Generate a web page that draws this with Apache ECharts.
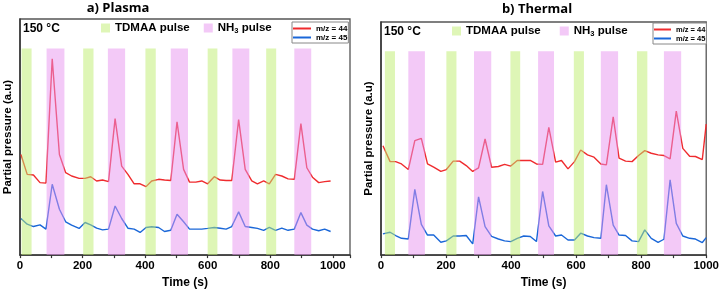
<!DOCTYPE html>
<html><head><meta charset="utf-8">
<script src="https://cdn.jsdelivr.net/npm/echarts@6/dist/echarts.min.js"></script>
<style>html,body{margin:0;padding:0;background:#fff}#c{width:722px;height:294px}</style>
</head><body><div id="c"></div>
<script>
// ---- data ----
const plasmaTime = [3,23,43,64,83,103,126,146,165,189,208,226,245,264,283,304,325,345,365,384,403,421,443,462,482,502,523,542,562,581,600,621,640,659,677,699,720,741,759,779,797,817,837,857,877,898,917,935,955,974,993];
const plasmaM44 = [42.6,34.2,33.9,30.7,30.5,83.1,42.6,34.9,33.5,32.5,32.5,33.2,31.4,31.8,31.1,57.8,37.7,34.2,30.2,30.2,29.0,31.4,32.1,31.8,31.6,56.4,36.3,30.9,30.9,31.4,30.2,33.2,31.8,31.6,31.6,57.4,36.3,31.4,30.2,31.4,30.2,34.2,33.5,32.3,32.1,55.7,37.0,33.0,30.7,31.1,31.4];
const plasmaM45 = [15.5,13.1,12.1,12.8,11.0,30.0,19.4,14.1,12.7,11.3,13.8,12.8,11.4,10.7,11.0,20.8,15.5,11.4,11.0,9.6,11.7,12.0,11.7,10.0,10.5,17.3,14.1,11.0,11.0,11.0,11.3,11.7,11.4,11.0,12.1,18.3,12.1,11.7,11.3,10.5,11.7,10.5,11.4,10.5,11.0,18.0,12.7,11.0,10.3,11.0,10.0];

const thermalTime = [6,28,45,63,84,104,124,143,162,184,201,222,242,262,282,300,320,340,361,380,399,419,439,459,478,497,516,537,555,575,595,614,635,655,676,693,714,732,752,772,792,811,831,852,870,889,908,928,949,967,988,1000];
const thermalM44 = [46.9,40.1,40.1,39.1,36.7,49.1,50.1,39.1,37.7,35.9,36.7,40.3,40.3,38.4,35.9,37.4,49.8,37.7,38.0,38.9,38.2,40.6,40.6,40.6,39.1,38.9,54.8,39.9,40.6,37.0,40.1,45.1,43.0,42.0,39.1,38.7,59.3,41.6,40.3,40.1,42.7,44.8,43.7,43.0,42.7,41.3,61.8,45.8,42.4,42.3,41.0,56.2];
const thermalM45 = [9.1,9.8,8.4,7.2,6.9,28.2,13.2,8.6,8.6,5.5,6.1,8.2,8.2,8.4,4.8,25.0,12.2,8.0,6.9,6.1,5.8,7.2,8.2,8.0,5.8,27.3,12.5,8.2,8.6,6.5,6.5,9.4,8.2,7.5,7.2,30.2,12.9,8.6,8.4,6.1,5.8,10.8,7.2,5.5,6.8,32.3,13.6,8.2,7.2,6.9,5.4,7.5];

const plasmaTdmaa = [[5,37],[202,235],[401,434],[600,631],[787,819]];
const plasmaNh3   = [[85,142],[281,336],[482,537],[679,733],[877,931]];
const thermalTdmaa = [[12,43],[201,232],[398,428],[593,624],[787,819]];
const thermalNh3   = [[84,135],[286,339],[483,532],[676,729],[870,923]];

const xTickLabels = [0,200,400,600,800,1000];
const panelTitles = ['a) Plasma','b) Thermal'];
const tempLabel = '150 °C';
const bandTop = 87.5;

// ---- styles ----
const FONT = '"Liberation Sans", Arial, sans-serif';
const RED = '#ef2b2e', BLUE = '#1a67d8';
const GREEN_FILL = 'rgba(190,238,110,0.5)', PINK_FILL = 'rgba(231,147,240,0.5)';
const GREEN_ICON = '#dff6b7', PINK_ICON = '#f3c9f7';

function pairs(t, v){ return t.map((x,i)=>[x, v[i]]); }

function bandSeries(name, bands, fill, idx){
  return {
    type:'custom', name, xAxisIndex:idx, yAxisIndex:idx, z:5, silent:true,
    itemStyle:{color: fill},
    encode:{x:[0,1], y:2},
    data: bands.map(b=>[b[0], b[1], 0]),
    renderItem:function(params, api){
      const p0 = api.coord([api.value(0), bandTop]);
      const p1 = api.coord([api.value(1), 0]);
      return {type:'rect', shape:{x:p0[0], y:p0[1], width:p1[0]-p0[0], height:p1[1]-p0[1]}, style:{fill: fill}};
    }
  };
}
function lineSeries(name, t, v, color, idx){
  return {type:'line', name, xAxisIndex:idx, yAxisIndex:idx, z:2, data:pairs(t,v),
    symbol:'none', lineStyle:{color, width:1.4}, itemStyle:{color}, silent:true, animation:false};
}
function xAxis(idx, max){
  return {type:'value', gridIndex:idx, min:0, max:max, interval:100,
    name:'Time (s)', nameLocation:'middle', nameGap:19,
    nameTextStyle:{fontFamily:FONT, fontWeight:'bold', fontSize:12, color:'#000'},
    axisLine:{show:true, lineStyle:{color:'#333', width:1.5}},
    axisTick:{show:true, inside:false, length:3, lineStyle:{color:'#333', width:1.2}},
    axisLabel:{margin:5, fontFamily:FONT, fontWeight:'bold', fontSize:11.5, color:'#000',
      formatter:v=> xTickLabels.indexOf(v)>=0 ? String(v) : ''},
    splitLine:{show:false}};
}
function yAxis(idx){
  return {type:'value', gridIndex:idx, min:0, max:100,
    name:'Partial pressure (a.u)', nameLocation:'middle', nameGap:6,
    nameTextStyle:{fontFamily:FONT, fontWeight:'bold', fontSize:11.5, color:'#000'},
    axisLine:{show:true, lineStyle:{color:'#333', width:1.5}},
    axisTick:{show:false}, axisLabel:{show:false}, splitLine:{show:false}};
}
function pulseLegend(left, top, gap){
  return {left, top, orient:'horizontal', itemGap:gap, itemWidth:9, itemHeight:9, icon:'rect',
    selectedMode:false, padding:0,
    textStyle:{fontFamily:FONT, fontWeight:'bold', fontSize:11.5, color:'#000', lineHeight:14,
      rich:{s:{fontFamily:FONT, fontWeight:'bold', fontSize:7.5, color:'#000', verticalAlign:'bottom', padding:[6,0,0,0]},
            n:{fontFamily:FONT, fontWeight:'bold', fontSize:11.5, color:'#000'}}},
    formatter:function(name){ return name==='NH3 pulse' ? '{n|NH}{s|3}{n| pulse}' : name; },
    data:[{name:'TDMAA pulse', itemStyle:{color:GREEN_ICON}}, {name:'NH3 pulse', itemStyle:{color:PINK_ICON}}]};
}
function lineLegend(left, top, fs, iw){
  return {left, top, orient:'vertical', itemGap:0, itemWidth:iw, itemHeight:2, icon:'rect',
    selectedMode:false, padding:[2,1,1,1], backgroundColor:'#fff', borderColor:'#888', borderWidth:1,
    textStyle:{fontFamily:FONT, fontWeight:'bold', fontSize:fs, color:'#000', lineHeight:9},
    data:[{name:'m/z = 44', itemStyle:{color:RED}}, {name:'m/z = 45', itemStyle:{color:BLUE}}]};
}

const chart = echarts.init(document.getElementById('c'), null, {renderer:'canvas'});
chart.setOption({
  animation:false,
  backgroundColor:'#fff',
  grid:[
    {left:20, right:372, top:19, bottom:38, show:true, borderColor:'#555', borderWidth:1.3, backgroundColor:'transparent'},
    {left:381, right:14, top:22, bottom:37, show:true, borderColor:'#555', borderWidth:1.3, backgroundColor:'transparent'}
  ],
  xAxis:[xAxis(0, 1055), xAxis(1, 1000)],
  yAxis:[yAxis(0), yAxis(1)],
  legend:[pulseLegend(101, 21, 14), pulseLegend(452, 24, 19), lineLegend(292, 22, 8, 18), lineLegend(653, 23, 7.5, 17)],
  graphic:[
    {type:'text', x:118, y:8, style:{text:panelTitles[0], align:'center', verticalAlign:'middle', font:'bold 13px "Open Sans", sans-serif', fill:'#000'}},
    {type:'text', x:537, y:9, style:{text:panelTitles[1], align:'center', verticalAlign:'middle', font:'bold 13px "Open Sans", sans-serif', fill:'#000'}},
    {type:'text', x:23, y:29, style:{text:tempLabel, align:'left', verticalAlign:'middle', font:'bold 12px "Liberation Sans", Arial, sans-serif', fill:'#000'}},
    {type:'text', x:384, y:32, style:{text:tempLabel, align:'left', verticalAlign:'middle', font:'bold 12px "Liberation Sans", Arial, sans-serif', fill:'#000'}}
  ],
  series:[
    lineSeries('m/z = 44', plasmaTime, plasmaM44, RED, 0),
    lineSeries('m/z = 45', plasmaTime, plasmaM45, BLUE, 0),
    bandSeries('TDMAA pulse', plasmaTdmaa, GREEN_FILL, 0),
    bandSeries('NH3 pulse', plasmaNh3, PINK_FILL, 0),
    lineSeries('m/z = 44', thermalTime, thermalM44, RED, 1),
    lineSeries('m/z = 45', thermalTime, thermalM45, BLUE, 1),
    bandSeries('TDMAA pulse', thermalTdmaa, GREEN_FILL, 1),
    bandSeries('NH3 pulse', thermalNh3, PINK_FILL, 1)
  ]
});
</script></body></html>
